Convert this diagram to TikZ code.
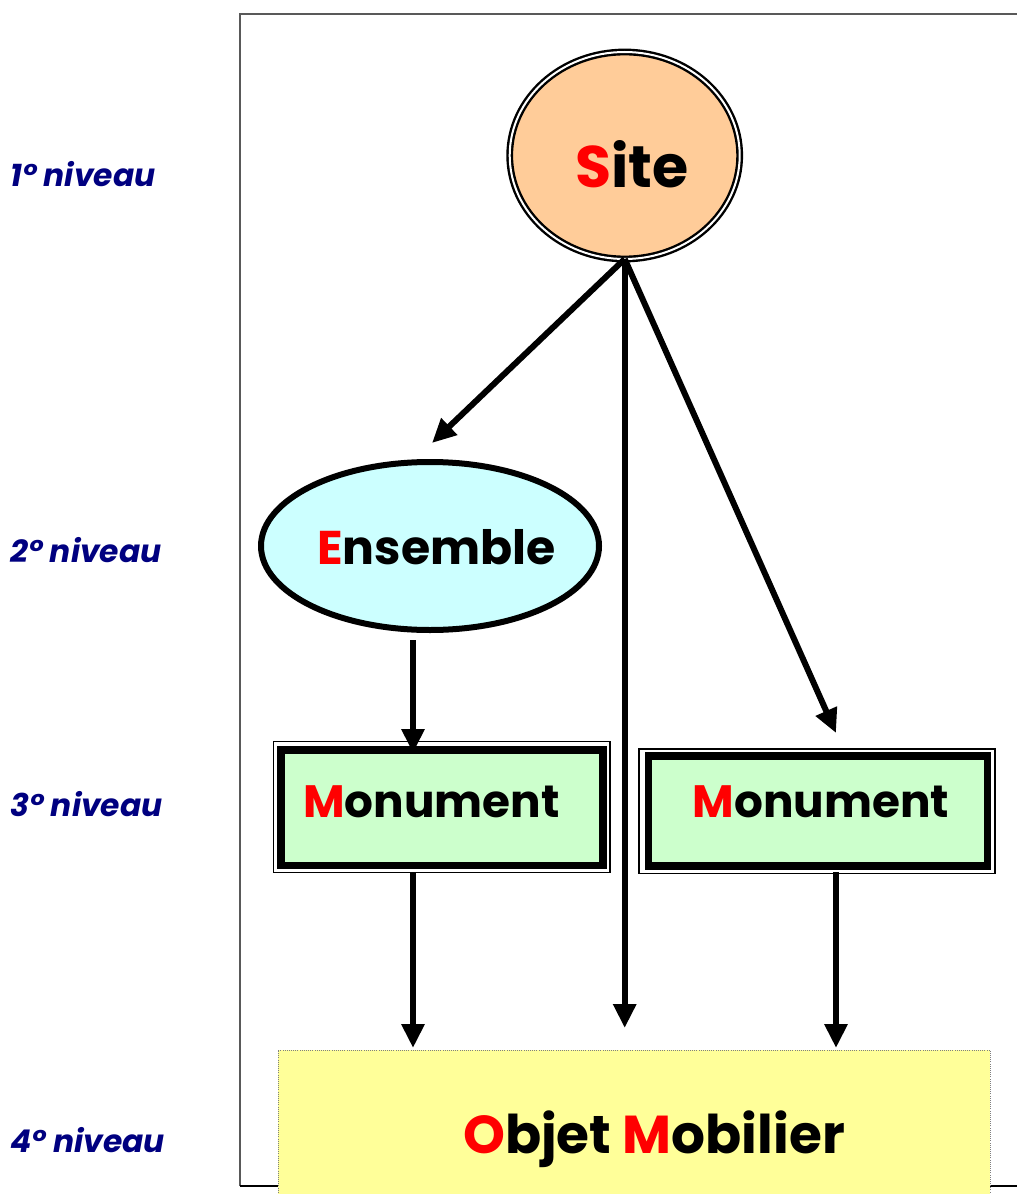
\documentclass[tikz,border=0pt]{standalone}
\usepackage{fontspec}
\setmainfont{Poppins}
\usetikzlibrary{arrows.meta,calc,shapes.geometric}
\definecolor{sitefill}{HTML}{FFCC99}
\definecolor{ensfill}{HTML}{CCFFFF}
\definecolor{monfill}{HTML}{CCFFCC}
\definecolor{objfill}{HTML}{FFFF99}
\definecolor{lblblue}{HTML}{000080}
\definecolor{initred}{HTML}{FF0000}
\def\pxu{0.75pt}
\newcommand{\ini}[1]{\textcolor{initred}{#1}}
\begin{document}
\begin{tikzpicture}[x=0.75pt,y=-0.75pt,
  bigtxt/.style={anchor=base, inner sep=0pt, font=\fontsize{#1}{48}\selectfont\bfseries},
  lvl/.style={anchor=base west, inner sep=0pt, text=lblblue, font=\fontsize{23.5}{28}\selectfont\bfseries\itshape},
  arr/.style={line width=4.5pt, -{Triangle[length=18pt,width=16.5pt]}},
  monbox/.style={rectangle, draw=black, fill=monfill, line width=7.5*\pxu, inner sep=0pt, outer sep=0pt},
  monouter/.style={draw=black, line width=1.2*\pxu}
]
\useasboundingbox (0,0) rectangle (1016,1194);
% frame
\draw[gray!70!black, line width=1.4*\pxu] (240,1186) -- (240,14) -- (1030,14);
\draw[black, line width=1.2*\pxu] (240,1186) -- (1030,1186);

% shapes
\node[ellipse, draw=black, double=white, line width=1.8pt, double distance=1.5pt, fill=sitefill,
      minimum width=230*\pxu, minimum height=207*\pxu, inner sep=0pt, outer sep=0pt] (site) at (624.7,155.5) {};
\node[ellipse, draw=black, fill=ensfill, line width=6*\pxu,
      minimum width=338*\pxu, minimum height=168*\pxu, inner sep=0pt, outer sep=0pt] (ens) at (430,546) {};
\node[monbox, minimum width=322*\pxu, minimum height=115.5*\pxu] (mon1) at (442,807.75) {};
\node[monbox, minimum width=339*\pxu, minimum height=110*\pxu] (mon2) at (818,811) {};
\draw[monouter] ([shift={(-7.5,-8.5)}]mon1.north west) rectangle ([shift={(7,7)}]mon1.south east);
\draw[monouter] ([shift={(-9.5,-7)}]mon2.north west) rectangle ([shift={(7.5,7.5)}]mon2.south east);
\node[rectangle, draw=gray, densely dotted, line width=0.6pt, fill=objfill,
      minimum width=712*\pxu, minimum height=160*\pxu, inner sep=0pt, outer sep=0pt] (obj) at (634,1130) {};

% texts
\node[bigtxt=44] (sitetxt) at (632,188) {\ini{S}ite};
\node[bigtxt=35.5] (enstxt) at (436.5,564) {\ini{E}nsemble};
\node[bigtxt=34] (mon1txt) at (431.5,817) {\ini{M}onument};
\node[bigtxt=34] (mon2txt) at (821,817) {\ini{M}onument};
\node[bigtxt=40] (objtxt) at (654,1153) {\ini{O}bjet \ini{M}obilier};

% level labels
\node[lvl] (l1) at (10,187) {1° niveau};
\node[lvl] (l2) at (10,562) {2° niveau};
\node[lvl] (l3) at (10,816) {3° niveau};
\node[lvl] (l4) at (10,1152) {4° niveau};

% connectors
\draw[arr] (site.south) -- ($(ens.north)+(2,-19)$);
\draw[arr] (site.south) -- ($(obj.north -| site.south)+(0,-22)$);
\draw[arr] (site.south) -- ($(mon2.north)+(18,-23)$);
\draw[arr] ($(ens.south)+(-17,10)$) -- ($(mon1.north)+(-29,3)$);
\draw[arr] ($(mon1.south)+(-29,6.5)$) -- ($(obj.north)+(-221,-2)$);
\draw[arr] ($(mon2.south)+(18,6)$) -- ($(obj.north)+(202,-2)$);
\end{tikzpicture}
\end{document}
